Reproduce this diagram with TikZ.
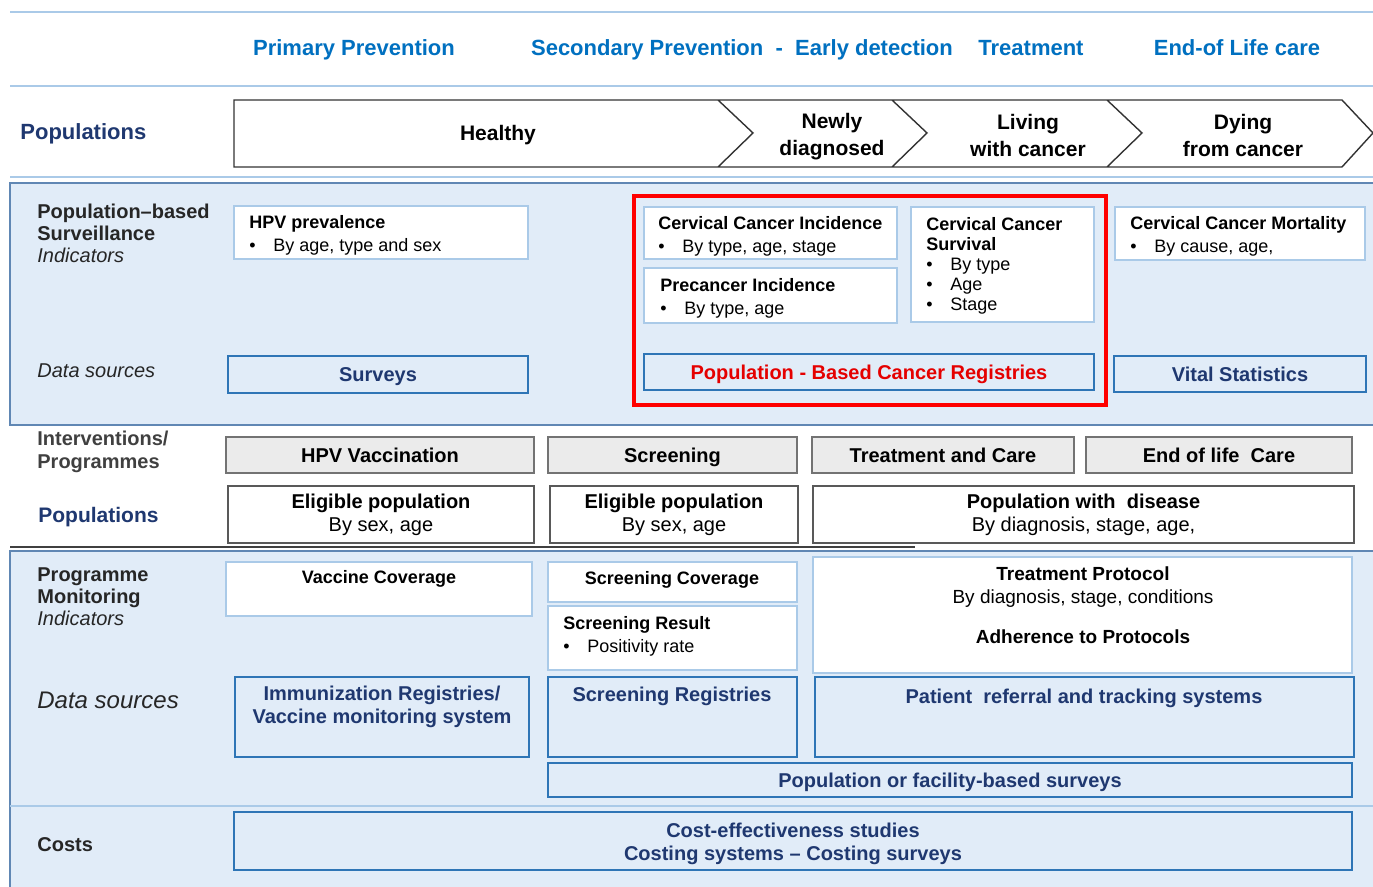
\documentclass[tikz,border=0pt]{standalone}
\usepackage{fontspec}
\setmainfont{Liberation Sans}
\usetikzlibrary{fit}
\definecolor{hblue}{RGB}{0,112,192}
\definecolor{navy}{RGB}{31,56,112}
\definecolor{bgblue}{RGB}{225,236,248}
\definecolor{lblue}{RGB}{170,202,232}
\definecolor{dblue}{RGB}{46,117,182}
\definecolor{steel}{RGB}{96,135,180}
\newcommand{\bul}{\makebox[12pt][l]{\textbullet}}

\begin{document}
\begin{tikzpicture}[x=0.5pt, y=-0.5pt,
  hdr/.style={anchor=base, text=hblue, font=\bfseries\fontsize{11}{13}\selectfont},
  chev/.style={align=center, font=\bfseries\fontsize{10.5}{13.5}\selectfont},
  side/.style={anchor=north west, align=left, inner sep=0, text=black!85, font=\bfseries\fontsize{10}{11}\selectfont},
  lbl/.style={anchor=west, inner sep=0, text=black!85},
  ibox/.style={draw=lblue, line width=0.8pt, fill=white, inner sep=0},
  dbox/.style={draw=dblue, line width=0.9pt, fill=bgblue, inner sep=0},
  dtxt/.style={text=navy, align=center, font=\bfseries\fontsize{10}{11.5}\selectfont},
  dline/.style={dtxt, text height=8pt, text depth=0.8pt},
  gbox/.style={draw=black!55, line width=0.8pt, fill=black!8, inner sep=0},
  pbox/.style={draw=black!65, line width=0.8pt, fill=white, inner sep=0},
  btxt/.style={font=\bfseries\fontsize{10}{12}\selectfont, text height=8pt, text depth=0.8pt},
  ptxt/.style={align=center, font=\fontsize{10}{11.5}\selectfont},
  itxt/.style={anchor=north west, align=left, inner sep=0, font=\bfseries\fontsize{9}{10.5}\selectfont},
]
\useasboundingbox (0,0) rectangle (1373,887);
\fill[white] (0,0) rectangle (1373,887);
\draw[lblue, line width=1pt] (10,12) -- (1373,12) (10,86) -- (1373,86) (10,177) -- (1373,177);
\draw[steel, line width=1pt, fill=bgblue] (10,183) rectangle (1390,425);
\draw[steel, line width=1pt, fill=bgblue] (10,551) rectangle (1390,900);
\draw[black!75, line width=0.8pt] (10,547) -- (915,547);
\draw[lblue, line width=0.8pt] (10,806) -- (1373,806);

\node[hdr] (prim) at (354,56) {Primary Prevention};
\node[hdr] (sec) at (742,56) {Secondary Prevention~~-~~Early detection};
\node[hdr] (treat) at (1031,56) {Treatment};
\node[hdr] (eol) at (1237,56) {End-of Life care};

\node[lbl, text=navy, font=\bfseries\fontsize{11}{13}\selectfont] (pop) at (20,134) {Populations};
\draw[black!80, line width=0.7pt] (234,100) -- (1342,100) -- (1373,133) -- (1342,167) -- (234,167) -- cycle
  (718,100) -- (753,133) -- (718,167)
  (892,100) -- (927,133) -- (892,167)
  (1107,100) -- (1142,133) -- (1107,167);
\node[chev] (healthy) at (498,135) {Healthy};
\node[chev] (newly) at (832,137) {Newly\\diagnosed};
\node[chev] (living) at (1028,135) {Living\\with cancer};
\node[chev] (dying) at (1243,135) {Dying\\from cancer};

\node[side] (pbs) at (37,204) {Population--based\\Surveillance\\{\mdseries\itshape Indicators}};
\node[lbl, font=\itshape\fontsize{10}{12}\selectfont] (ds1) at (37,371) {Data sources};
\node[ibox, fit={(234,206) (528,259)}] (hpv) {};
\node[itxt] (hpvt) at (249,215) {HPV prevalence\\[1pt]{\mdseries\bul By age, type and sex}};
\node[draw=red, line width=1.6pt, inner sep=0, fit={(634,196) (1106,405)}] (red) {};
\node[ibox, fit={(644,207) (897,259)}] (cci) {};
\node[itxt] (ccit) at (658,216) {Cervical Cancer Incidence\\[1pt]{\mdseries\bul By type, age, stage}};
\node[ibox, fit={(644,268) (897,323)}] (pci) {};
\node[itxt] (pcit) at (660,278) {Precancer Incidence\\[1pt]{\mdseries\bul By type, age}};
\node[ibox, fit={(911,207) (1094,322)}] (ccs) {};
\node[itxt, font=\bfseries\fontsize{9}{10}\selectfont] (ccst) at (926,217) {Cervical Cancer\\Survival\\{\mdseries\bul By type}\\{\mdseries\bul Age}\\{\mdseries\bul Stage}};
\node[ibox, fit={(1115,207) (1365,260)}] (ccm) {};
\node[itxt] (ccmt) at (1130,216) {Cervical Cancer Mortality\\[1pt]{\mdseries\bul By cause, age,}};
\node[dbox, fit={(228,356) (528,393)}] (surv) {};
\node[dline] (survt) at (surv) {Surveys};
\node[dbox, fit={(644,354) (1094,390)}] (pbcr) {};
\node[dline, text=red!90!black] (pbcrt) at (pbcr) {Population - Based Cancer Registries};
\node[dbox, fit={(1114,356) (1366,392)}] (vital) {};
\node[dline] (vitalt) at (vital) {Vital Statistics};

\node[side, text=black!75, font=\bfseries\fontsize{10}{11.5}\selectfont] (intv) at (37,431) {Interventions/\\Programmes};
\node[lbl, text=navy, font=\bfseries\fontsize{10.5}{12}\selectfont] (pop2) at (38,517) {Populations};
\node[gbox, fit={(226,437) (534,473)}] (hpvv) {};
\node[btxt] (hpvvt) at (hpvv) {HPV Vaccination};
\node[gbox, fit={(548,437) (797,473)}] (scr) {};
\node[btxt] (scrt) at (scr) {Screening};
\node[gbox, fit={(812,437) (1074,473)}] (tac) {};
\node[btxt] (tact) at (tac) {Treatment and Care};
\node[gbox, fit={(1086,437) (1352,473)}] (elc) {};
\node[btxt] (elct) at (elc) {End of life~~Care};
\node[pbox, fit={(228,486) (534,543)}] (elig1) {};
\node[ptxt] (elig1t) at (elig1) {{\bfseries Eligible population}\\By sex, age};
\node[pbox, fit={(550,486) (798,543)}] (elig2) {};
\node[ptxt] (elig2t) at (elig2) {{\bfseries Eligible population}\\By sex, age};
\node[pbox, fit={(813,486) (1354,543)}] (pwd) {};
\node[ptxt] (pwdt) at (pwd) {{\bfseries Population with~~disease}\\By diagnosis, stage, age,};

\node[side] (pmi) at (37,567) {Programme\\Monitoring\\{\mdseries\itshape Indicators}};
\node[lbl, font=\itshape\fontsize{12}{14}\selectfont] (ds2) at (37,700) {Data sources};
\node[lbl, font=\bfseries\fontsize{10}{12}\selectfont] (costs) at (37,845) {Costs};
\node[ibox, fit={(226,562) (532,616)}] (vc) {};
\node[font=\bfseries\fontsize{9}{10.5}\selectfont] (vct) at (379,579) {Vaccine Coverage};
\node[ibox, fit={(548,562) (797,602)}] (sc) {};
\node[font=\bfseries\fontsize{9}{10.5}\selectfont] (sct) at (672,580) {Screening Coverage};
\node[ibox, fit={(548,606) (797,670)}] (sr) {};
\node[itxt] (srt) at (563,616) {Screening Result\\[1pt]{\mdseries\bul Positivity rate}};
\node[ibox, fit={(813,557) (1352,673)}] (tp) {};
\node[anchor=north, align=center, inner sep=0, font=\fontsize{9.5}{11.5}\selectfont] (tpt) at (1083,566) {{\bfseries Treatment Protocol}\\By diagnosis, stage, conditions\\[8.5pt]{\bfseries Adherence to Protocols}};
\node[dbox, fit={(235,677) (529,757)}] (imm) {};
\node[dtxt, anchor=north, inner sep=0] (immt) at (382,686) {Immunization Registries/\\Vaccine monitoring system};
\node[dbox, fit={(548,677) (797,757)}] (sreg) {};
\node[dline] (sregt) at (672,694) {Screening Registries};
\node[dbox, fit={(815,677) (1354,757)}] (prt) {};
\node[dline] (prtt) at (1084,696) {Patient~~referral and tracking systems};
\node[dbox, fit={(548,763) (1352,797)}] (pfs) {};
\node[dline] (pfst) at (pfs) {Population or facility-based surveys};
\node[dbox, fit={(234,812) (1352,870)}] (cost) {};
\node[dtxt] (costt) at (793,844) {Cost-effectiveness studies\\Costing systems -- Costing surveys};
\end{tikzpicture}
\end{document}
